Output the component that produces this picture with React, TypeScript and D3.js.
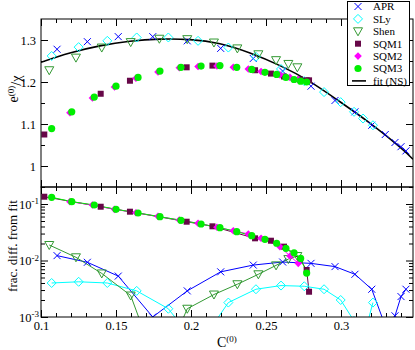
import React, { useRef, useEffect } from 'react';
import * as d3 from 'd3';

// fit (NS) curve, sampled off the figure
const fitC = [0.1, 0.1193, 0.1393, 0.1593, 0.1793, 0.1993, 0.2193, 0.2393, 0.2593, 0.2793, 0.2993, 0.3193, 0.3393, 0.348];
const fitE = [1.247, 1.269, 1.286, 1.297, 1.302, 1.301, 1.291, 1.269, 1.239, 1.201, 1.153, 1.102, 1.045, 1.016];

// APR
const aprC = [0.1107, 0.1309, 0.1515, 0.1745, 0.1975, 0.2198, 0.2415, 0.2611, 0.28, 0.296, 0.3093, 0.3205, 0.3295, 0.336, 0.34, 0.3433];
const aprE = [1.278, 1.296, 1.308, 1.308, 1.298, 1.28, 1.256, 1.226, 1.19, 1.156, 1.129, 1.097, 1.075, 1.056, 1.046, 1.036];
const aprD = [0.0122, 0.0093, 0.0053, 0.001, 0.0029, 0.0063, 0.0083, 0.0094, 0.0089, 0.0078, 0.0057, 0.0031, 0.0007, 0.00105, 0.0023, 0.0031];

// SLy
const slyC = [0.1071, 0.1251, 0.1442, 0.1638, 0.1849, 0.2047, 0.2249, 0.2433, 0.26, 0.2755, 0.2887, 0.2998, 0.3087, 0.3147, 0.3213];
const slyE = [1.262, 1.283, 1.298, 1.306, 1.306, 1.298, 1.282, 1.26, 1.231, 1.202, 1.176, 1.152, 1.129, 1.113, 1.097];
const slyD = [0.004, 0.0042, 0.004, 0.0029, 0.0014, 0.0003, 0.0018, 0.0031, 0.0036, 0.0035, 0.0031, 0.002, 0.00085, 0.0004, 0.0018];

// Shen
const shenC = [0.1055, 0.1233, 0.1405, 0.1598, 0.1789, 0.1975, 0.2153, 0.2309, 0.2449, 0.2567, 0.2649, 0.2709];
const shenE = [1.228, 1.258, 1.282, 1.295, 1.303, 1.302, 1.294, 1.28, 1.266, 1.252, 1.243, 1.235];
const shenD = [0.0188, 0.0114, 0.0059, 0.0024, 0.0001, 0.0014, 0.0025, 0.0038, 0.0057, 0.0082, 0.0106, 0.012];

// SQM1
const sqm1C = [0.1022, 0.1398, 0.1593, 0.1971, 0.2143, 0.2427, 0.2533, 0.262, 0.2727, 0.2771, 0.2787];
const sqm1E = [1.075, 1.172, 1.203, 1.235, 1.239, 1.228, 1.22, 1.213, 1.206, 1.204, 1.204];
const sqm1D = [0.1346, 0.0895, 0.0731, 0.0486, 0.0403, 0.0247, 0.0224, 0.0176, 0.0105, 0.0068, 0.0028];

// SQM2
const sqm2C = [0.1193, 0.1343, 0.149, 0.1633, 0.178, 0.1922, 0.2047, 0.2173, 0.2282, 0.2382, 0.2467, 0.2593, 0.266, 0.2715];
const sqm2E = [1.127, 1.162, 1.188, 1.209, 1.224, 1.234, 1.237, 1.238, 1.235, 1.231, 1.225, 1.217, 1.211, 1.205];
const sqm2D = [0.11, 0.096, 0.0805, 0.0701, 0.0605, 0.0521, 0.0456, 0.0387, 0.0337, 0.0295, 0.0247, 0.0175, 0.012, 0.0089];

// SQM3
const sqm3C = [0.1071, 0.1205, 0.1355, 0.15, 0.1647, 0.1793, 0.1933, 0.2067, 0.2193, 0.2305, 0.2405, 0.2493, 0.2571, 0.2633, 0.2687, 0.2731, 0.2771];
const sqm3E = [1.089, 1.129, 1.164, 1.19, 1.211, 1.226, 1.235, 1.238, 1.239, 1.235, 1.23, 1.223, 1.218, 1.211, 1.206, 1.202, 1.2];
const sqm3D = [0.1315, 0.11, 0.096, 0.0805, 0.0693, 0.0596, 0.0515, 0.0443, 0.0381, 0.0324, 0.0275, 0.0237, 0.0202, 0.0164, 0.0137, 0.0109, 0.006];

// ticks
const xMajor = [0.1, 0.15, 0.2, 0.25, 0.3];
const xMinor = [0.11, 0.12, 0.13, 0.14, 0.16, 0.17, 0.18, 0.19, 0.21, 0.22, 0.23, 0.24, 0.26, 0.27, 0.28, 0.29, 0.31, 0.32, 0.33, 0.34];
const yTopMajor = [1, 1.1, 1.2, 1.3];
const yTopMinor = [0.95, 1.05, 1.15, 1.25];
const yBotMajor = [0.001, 0.01, 0.1];
const yBotExp = ['-3', '-2', '-1'];

const series = [
  { name: 'APR', sym: 'x', color: '#0000ff', C: aprC, E: aprE, D: aprD },
  { name: 'SLy', sym: 'diamond', color: '#00ffff', C: slyC, E: slyE, D: slyD },
  { name: 'Shen', sym: 'tri', color: '#339933', C: shenC, E: shenE, D: shenD },
  { name: 'SQM1', sym: 'square', color: '#670748', C: sqm1C, E: sqm1E, D: sqm1D },
  { name: 'SQM2', sym: 'fdiamond', color: '#ff00ff', C: sqm2C, E: sqm2E, D: sqm2D },
  { name: 'SQM3', sym: 'circle', color: '#00ee00', C: sqm3C, E: sqm3E, D: sqm3D },
];

const symPath: Record<string, string> = {
  x: 'M-3.5,-3.5L3.5,3.5M-3.5,3.5L3.5,-3.5',
  diamond: 'M0,-4.5L4.5,0L0,4.5L-4.5,0Z',
  tri: 'M-4.5,-3.5L4.5,-3.5L0,4.5Z',
  square: 'M-3,-3H3V3H-3Z',
  fdiamond: 'M0,-3.8L3.8,0L0,3.8L-3.8,0Z',
};
const filled = (s: string) => s === 'square' || s === 'fdiamond' || s === 'circle';

const drawSym = (g: any, sym: string, color: string) => {
  if (sym === 'circle') {
    g.append('circle').attr('r', 3.6).attr('fill', color);
  } else {
    g.append('path')
      .attr('d', symPath[sym])
      .attr('fill', filled(sym) ? color : 'none')
      .attr('stroke', color)
      .attr('stroke-width', filled(sym) ? 0 : 1);
  }
};

const App = () => {
  const svgRef = useRef<SVGSVGElement>(null);

  useEffect(() => {
    const svg = d3.select(svgRef.current);
    svg.selectAll('*').remove();
    const font = "'Liberation Serif', 'Times New Roman', serif";

    const left = 41, right = 413, top = 19, mid = 187, bottom = 317;
    const x = d3.scaleLinear().domain([0.1, 0.348]).range([left, right]);
    const yTop = d3.scaleLinear().domain([0.95, 1.35]).range([mid, top]);
    const yBot = d3.scaleLog().domain([1e-3, 0.2]).range([bottom, mid]);

    const defs = svg.append('defs');
    defs.append('clipPath').attr('id', 'clipTop').append('rect')
      .attr('x', left).attr('y', top).attr('width', right - left).attr('height', mid - top);
    defs.append('clipPath').attr('id', 'clipBot').append('rect')
      .attr('x', left).attr('y', mid).attr('width', right - left).attr('height', bottom - mid);

    svg.append('rect').attr('width', 415).attr('height', 350).attr('fill', '#fff');

    // top panel: fit + points
    const gTop = svg.append('g').attr('clip-path', 'url(#clipTop)');
    const fitLine = d3.line<number>()
      .x((_, i) => x(fitC[i]))
      .y(d => yTop(d))
      .curve(d3.curveNatural);
    gTop.append('path').datum(fitE)
      .attr('fill', 'none').attr('stroke', '#000').attr('stroke-width', 1.6)
      .attr('d', fitLine);

    series.forEach(s => {
      s.E.forEach((e, i) => {
        const g = gTop.append('g').attr('transform', `translate(${x(s.C[i])},${yTop(e)})`);
        drawSym(g, s.sym, s.color);
      });
    });

    // bottom panel: fractional differences
    const gBot = svg.append('g').attr('clip-path', 'url(#clipBot)');
    series.forEach(s => {
      const line = d3.line<number>()
        .x((_, i) => x(s.C[i]))
        .y(d => yBot(d));
      gBot.append('path').datum(s.D)
        .attr('fill', 'none').attr('stroke', s.color).attr('stroke-width', 1)
        .attr('d', line);
    });
    series.forEach(s => {
      s.D.forEach((d, i) => {
        const g = gBot.append('g').attr('transform', `translate(${x(s.C[i])},${yBot(d)})`);
        drawSym(g, s.sym, s.color);
      });
    });

    // axes (ticks pointing inward on every side)
    const put = (gen: any, tx: number, ty: number) => {
      const g = svg.append('g').attr('transform', `translate(${tx},${ty})`).call(gen);
      g.select('.domain').remove();
      g.selectAll('line').attr('stroke', '#000');
      g.attr('font-family', font).attr('font-size', 12.5);
      g.selectAll('text').attr('fill', '#000');
      return g;
    };
    const maj = 7, mnr = 4;
    const minorLog: number[] = [];
    yBotMajor.forEach(k => d3.range(2, 10).forEach(m => { if (k * m <= 0.2) minorLog.push(k * m); }));

    // top panel
    put(d3.axisTop(x).tickValues(xMajor).tickSize(-maj).tickFormat(() => ''), 0, top);
    put(d3.axisTop(x).tickValues(xMinor).tickSize(-mnr).tickFormat(() => ''), 0, top);
    put(d3.axisBottom(x).tickValues(xMajor).tickSize(-maj).tickFormat(() => ''), 0, mid);
    put(d3.axisBottom(x).tickValues(xMinor).tickSize(-mnr).tickFormat(() => ''), 0, mid);
    put(d3.axisLeft(yTop).tickValues(yTopMajor).tickSize(-maj).tickPadding(5).tickFormat((d: any) => String(d)), left, 0);
    put(d3.axisLeft(yTop).tickValues(yTopMinor).tickSize(-mnr).tickFormat(() => ''), left, 0);
    put(d3.axisRight(yTop).tickValues(yTopMajor).tickSize(-maj).tickFormat(() => ''), right, 0);
    put(d3.axisRight(yTop).tickValues(yTopMinor).tickSize(-mnr).tickFormat(() => ''), right, 0);

    // bottom panel
    put(d3.axisTop(x).tickValues(xMajor).tickSize(-maj).tickFormat(() => ''), 0, mid);
    put(d3.axisTop(x).tickValues(xMinor).tickSize(-mnr).tickFormat(() => ''), 0, mid);
    put(d3.axisBottom(x).tickValues(xMajor).tickSize(-maj).tickPadding(4).tickFormat((d: any) => String(d)), 0, bottom);
    put(d3.axisBottom(x).tickValues(xMinor).tickSize(-mnr).tickFormat(() => ''), 0, bottom);
    const gl = put(d3.axisLeft(yBot).tickValues(yBotMajor).tickSize(-maj).tickPadding(2).tickFormat(() => ''), left, 0);
    gl.selectAll('text').each(function (_: any, i: number) {
      const t = d3.select(this as SVGTextElement);
      t.append('tspan').text('10');
      t.append('tspan').attr('dy', '-0.45em').attr('font-size', 9).text(yBotExp[i]);
    });
    put(d3.axisLeft(yBot).tickValues(minorLog).tickSize(-mnr).tickFormat(() => ''), left, 0);
    put(d3.axisRight(yBot).tickValues(yBotMajor).tickSize(-maj).tickFormat(() => ''), right, 0);
    put(d3.axisRight(yBot).tickValues(minorLog).tickSize(-mnr).tickFormat(() => ''), right, 0);

    // frames
    svg.append('rect').attr('x', left).attr('y', top).attr('width', right - left).attr('height', mid - top)
      .attr('fill', 'none').attr('stroke', '#000').attr('stroke-width', 1);
    svg.append('rect').attr('x', left).attr('y', mid).attr('width', right - left).attr('height', bottom - mid)
      .attr('fill', 'none').attr('stroke', '#000').attr('stroke-width', 1);

    // axis titles
    const yl = svg.append('text').attr('transform', 'translate(18,89) rotate(-90)')
      .attr('text-anchor', 'middle').attr('font-family', font).attr('font-size', 14);
    yl.append('tspan').text('e');
    yl.append('tspan').attr('dy', '-0.5em').attr('font-size', 9).text('(0)');
    yl.append('tspan').attr('dy', '0.5em').text('/χ');

    svg.append('text').attr('transform', 'translate(17,246) rotate(-90)')
      .attr('text-anchor', 'middle').attr('font-family', font).attr('font-size', 13)
      .text('frac. diff. from fit');

    const xl = svg.append('text').attr('x', 217).attr('y', 347)
      .attr('font-family', font).attr('font-size', 14);
    xl.append('tspan').text('C');
    xl.append('tspan').attr('dy', '-0.55em').attr('font-size', 9).text('(0)');

    // legend
    const lg = svg.append('g');
    lg.append('rect').attr('x', 347.5).attr('y', 1.5).attr('width', 62).attr('height', 84)
      .attr('fill', '#fff').attr('stroke', '#000').attr('stroke-width', 1);
    const rowY = (i: number) => 6.5 + i * 12.4;
    series.forEach((s, i) => {
      const g = lg.append('g').attr('transform', `translate(358,${rowY(i)})`);
      drawSym(g, s.sym, s.color);
      lg.append('text').attr('x', 373).attr('y', rowY(i) + 3.8)
        .attr('font-family', font).attr('font-size', 11).text(s.name);
    });
    lg.append('line').attr('x1', 352).attr('x2', 366).attr('y1', rowY(6)).attr('y2', rowY(6))
      .attr('stroke', '#000').attr('stroke-width', 1.6);
    lg.append('text').attr('x', 373).attr('y', rowY(6) + 3.8)
      .attr('font-family', font).attr('font-size', 11).text('fit (NS)');
  }, []);

  return (
    <svg ref={svgRef} width={415} height={350}
      style={{ position: 'absolute', left: 0, top: 0, display: 'block' }} />
  );
};

export default App;
